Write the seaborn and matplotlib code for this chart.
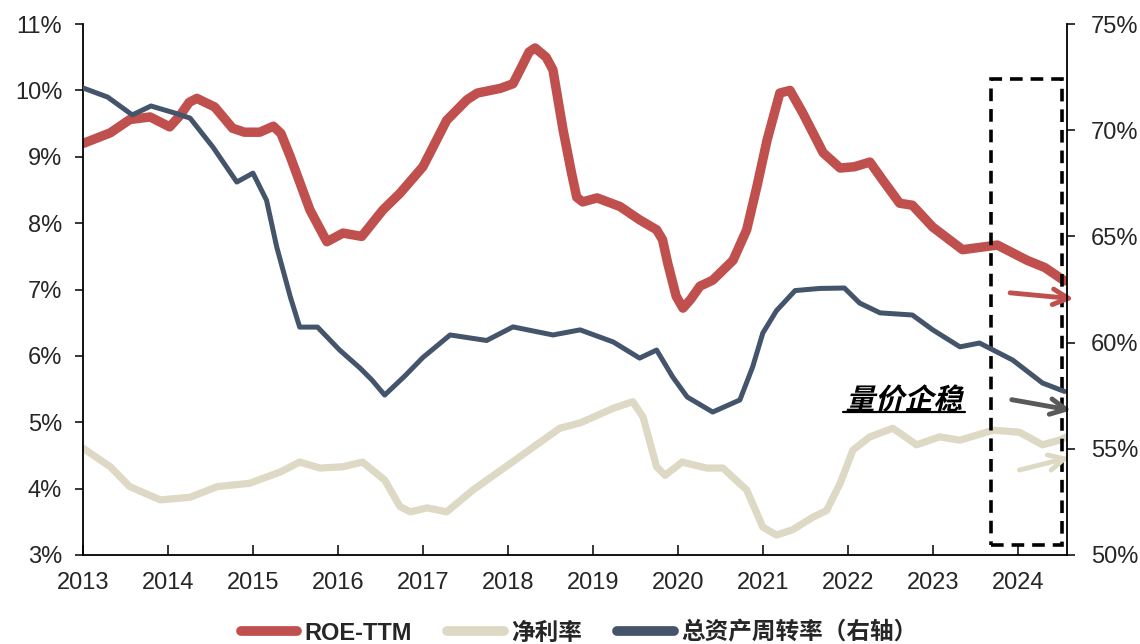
import numpy as np
import pandas as pd
import matplotlib
matplotlib.use("Agg")
import matplotlib.pyplot as plt
import seaborn as sns
from matplotlib.lines import Line2D
from matplotlib.patches import Rectangle
from matplotlib.patheffects import AbstractPathEffect
from matplotlib.transforms import Affine2D

# ROE-TTM (left axis, %)
roe_x = [2013.00, 2013.32, 2013.55, 2013.79, 2014.02, 2014.14, 2014.25, 2014.34, 2014.55, 2014.76,
         2014.90, 2015.08, 2015.24, 2015.33, 2015.44, 2015.67, 2015.87, 2016.06, 2016.28, 2016.53,
         2016.73, 2017.00, 2017.28, 2017.52, 2017.64, 2017.91, 2018.06, 2018.14, 2018.25, 2018.32,
         2018.45, 2018.53, 2018.65, 2018.75, 2018.81, 2018.88, 2019.05, 2019.32, 2019.55, 2019.75,
         2019.82, 2019.88, 2019.98, 2020.06, 2020.15, 2020.26, 2020.41, 2020.65, 2020.81, 2020.93,
         2021.05, 2021.20, 2021.32, 2021.47, 2021.71, 2021.91, 2022.08, 2022.26, 2022.41, 2022.61,
         2022.76, 2023.00, 2023.35, 2023.76, 2024.11, 2024.32, 2024.55]
roe_y = [9.20, 9.36, 9.56, 9.60, 9.45, 9.62, 9.82, 9.88, 9.75, 9.43,
         9.37, 9.37, 9.46, 9.35, 9.00, 8.20, 7.72, 7.85, 7.80, 8.20,
         8.45, 8.85, 9.55, 9.86, 9.96, 10.03, 10.10, 10.30, 10.58, 10.64,
         10.50, 10.31, 9.40, 8.75, 8.39, 8.32, 8.38, 8.25, 8.05, 7.90,
         7.75, 7.40, 6.90, 6.72, 6.85, 7.05, 7.14, 7.44, 7.90, 8.55,
         9.25, 9.96, 10.00, 9.66, 9.06, 8.83, 8.85, 8.92, 8.65, 8.30,
         8.27, 7.94, 7.60, 7.67, 7.44, 7.33, 7.13]

# 净利率 (left axis, %)
npm_x = [2013.00, 2013.32, 2013.55, 2013.91, 2014.26, 2014.58, 2014.96, 2015.32, 2015.55,
         2015.79, 2016.06, 2016.29, 2016.55, 2016.73, 2016.85, 2017.05, 2017.28, 2017.59,
         2018.14, 2018.61, 2018.85, 2019.24, 2019.47, 2019.59, 2019.75, 2019.85, 2020.05,
         2020.34, 2020.53, 2020.81, 2021.00, 2021.16, 2021.35, 2021.59, 2021.75, 2021.91,
         2022.06, 2022.26, 2022.53, 2022.81, 2023.08, 2023.32, 2023.71, 2024.02, 2024.29,
         2024.49, 2024.58]
npm_y = [4.61, 4.33, 4.03, 3.83, 3.87, 4.03, 4.08, 4.25, 4.40,
         4.31, 4.33, 4.40, 4.13, 3.73, 3.65, 3.71, 3.65, 3.98,
         4.48, 4.91, 4.99, 5.21, 5.31, 5.08, 4.33, 4.20, 4.40,
         4.31, 4.31, 3.98, 3.42, 3.30, 3.38, 3.57, 3.67, 4.08,
         4.58, 4.78, 4.91, 4.66, 4.78, 4.73, 4.88, 4.85, 4.66,
         4.73, 4.78]

# 总资产周转率 (right axis, %)
tat_x = [2013.00, 2013.29, 2013.58, 2013.80, 2014.08, 2014.26, 2014.53, 2014.81, 2015.00,
         2015.16, 2015.28, 2015.44, 2015.55, 2015.76, 2016.02, 2016.26, 2016.40, 2016.55,
         2016.78, 2017.00, 2017.32, 2017.75, 2018.06, 2018.53, 2018.85, 2019.24, 2019.55,
         2019.75, 2019.94, 2020.11, 2020.41, 2020.73, 2020.88, 2021.00, 2021.16, 2021.38,
         2021.67, 2021.96, 2022.14, 2022.38, 2022.76, 2023.00, 2023.32, 2023.55, 2023.94,
         2024.29, 2024.55]
tat_y = [71.99, 71.56, 70.72, 71.14, 70.81, 70.57, 69.20, 67.56, 67.98,
         66.70, 64.50, 62.15, 60.73, 60.73, 59.65, 58.80, 58.24, 57.53,
         58.40, 59.30, 60.36, 60.10, 60.74, 60.36, 60.60, 60.03, 59.27,
         59.65, 58.38, 57.44, 56.73, 57.30, 58.85, 60.45, 61.50, 62.45,
         62.55, 62.57, 61.86, 61.40, 61.30, 60.60, 59.80, 59.98, 59.18,
         58.10, 57.70]

years = list(range(2013, 2025))
left_ticks = list(range(3, 12))
right_ticks = list(range(50, 80, 5))

RED = "#C0504D"
BEIGE = "#DDD9C4"
NAVY = "#44546A"
GRAY = "#595959"

roe = pd.DataFrame({"x": roe_x, "y": roe_y})
npm = pd.DataFrame({"x": npm_x, "y": npm_y})
tat = pd.DataFrame({"x": tat_x, "y": tat_y})

sns.set_style("ticks")
plt.rcParams["font.family"] = ["Liberation Sans", "Noto Sans CJK SC", "DejaVu Sans"]


class Oblique(AbstractPathEffect):
    # fake italic: shear the text path around its anchor
    def draw_path(self, renderer, gc, tpath, affine, rgbFace=None):
        x0, y0 = affine.transform((0, 0))
        sk = Affine2D().translate(-x0, -y0).skew_deg(14, 0).translate(x0, y0)
        renderer.draw_path(gc, tpath, affine + sk, rgbFace)


fig = plt.figure(figsize=(11.4, 6.44), dpi=100)
fig.subplots_adjust(left=0.0728, right=0.936, top=0.9627, bottom=0.1382)
ax = fig.add_subplot(111)
ax2 = ax.twinx()

line_kw = dict(solid_capstyle="round", solid_joinstyle="round")
sns.lineplot(data=npm, x="x", y="y", ax=ax, color=BEIGE, linewidth=5.2, **line_kw)
sns.lineplot(data=roe, x="x", y="y", ax=ax, color=RED, linewidth=6.8, **line_kw)
sns.lineplot(data=tat, x="x", y="y", ax=ax2, color=NAVY, linewidth=3.6, **line_kw)

ax.set_xlim(2013, 2024.58)
ax.set_ylim(3, 11)
ax2.set_ylim(50, 75)
ax.set_xticks(years)
ax.set_xticklabels([str(y) for y in years])
ax.set_yticks(left_ticks)
ax.set_yticklabels([f"{v}%" for v in left_ticks])
ax2.set_yticks(right_ticks)
ax2.set_yticklabels([f"{v}%" for v in right_ticks])
for a in (ax, ax2):
    a.set_xlabel("")
    a.set_ylabel("")
    a.spines["top"].set_visible(False)
    for s in a.spines.values():
        s.set_linewidth(1.3)
        s.set_color("black")
ax.spines["right"].set_visible(False)
ax2.spines["left"].set_visible(False)
ax2.spines["bottom"].set_visible(False)
ax.tick_params(axis="x", direction="in", length=7, width=1.3, labelsize=17, pad=12)
ax.tick_params(axis="y", direction="out", length=6, width=1.3, labelsize=17, pad=9)
ax2.tick_params(axis="y", direction="out", length=6, width=1.3, labelsize=17, pad=11)

# dashed highlight box over the latest period
box = Rectangle((2023.69, 3.15), 0.83, 7.02, fill=False, edgecolor="black",
                linewidth=2.6, linestyle=(0, (3.5, 2.2)), clip_on=False, zorder=5)
ax.add_patch(box)

# arrows at the right edge
arrows = [((2023.91, 6.95), (2024.66, 6.86), RED),
          ((2023.93, 5.34), (2024.63, 5.18), GRAY),
          ((2024.02, 4.28), (2024.61, 4.47), BEIGE)]
for start, end, c in arrows:
    ax.annotate("", xy=end, xytext=start, annotation_clip=False,
                arrowprops=dict(arrowstyle="->", color=c, lw=3.5, mutation_scale=28,
                                shrinkA=0, shrinkB=0), zorder=6)

ax.text(2022.66, 5.33, "量价企稳", ha="center", va="center", fontsize=21,
        fontweight="bold", family=["Noto Sans CJK SC"], color="black",
        path_effects=[Oblique()], zorder=6)
ax.plot([2021.94, 2023.38], [5.155, 5.155], color="black", lw=1.6, zorder=6)

handles = [Line2D([], [], color=RED, lw=7, solid_capstyle="round"),
           Line2D([], [], color=BEIGE, lw=7, solid_capstyle="round"),
           Line2D([], [], color=NAVY, lw=7, solid_capstyle="round")]
labels = ["ROE-TTM", "净利率", "总资产周转率（右轴）"]
leg = fig.legend(handles, labels, loc="center", bbox_to_anchor=(0.508, 0.017), ncol=3,
                 frameon=False, handlelength=2.4, handletextpad=0.3, columnspacing=1.5,
                 prop={"size": 17, "weight": "bold"})

fig.savefig("out.png", dpi=100)
